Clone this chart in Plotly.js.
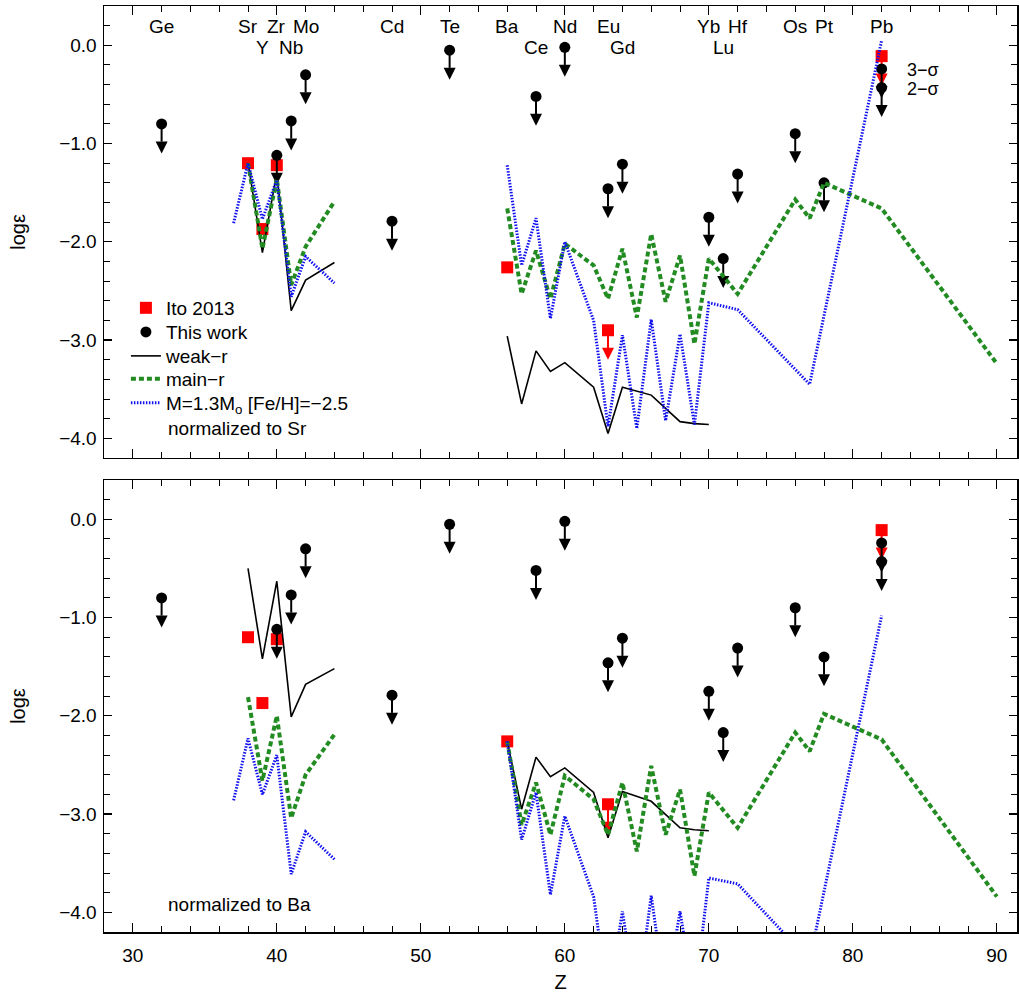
<!DOCTYPE html>
<html><head><meta charset="utf-8">
<script src="https://cdn.plot.ly/plotly-3.0.1.min.js"></script>
<style>html,body{margin:0;padding:0;background:#fff}#chart{width:1019px;height:996px}</style>
</head><body><div id="chart"></div>
<script>
// ---------- observed abundances ----------
const thisWorkZ   = [32, 40, 41, 42, 48, 52, 58, 60, 63, 64, 70, 71, 72, 76, 78, 82, 82];
const thisWorkLog = [-0.80, -1.12, -0.77, -0.30, -1.79, -0.05, -0.52, -0.02, -1.46, -1.21, -1.75, -2.17, -1.31, -0.90, -1.40, -0.24, -0.43];

const itoZ   = [38, 39, 40, 56, 63, 82];
const itoLog = [-1.20, -1.87, -1.22, -2.26, -2.90, -0.11];
const itoLimZ   = [63, 82];
const itoLimLog = [-2.90, -0.11];

// ---------- models, normalized to Sr (top) ----------
const weakZ_L = [38, 39, 40, 41, 42, 44];
const weakSr_L = [-1.20, -2.11, -1.30, -2.70, -2.39, -2.21];
const weakZ_H = [56, 57, 58, 59, 60, 62, 63, 64, 66, 68, 69, 70];
const weakSr_H = [-2.96, -3.65, -3.11, -3.32, -3.23, -3.48, -3.95, -3.48, -3.56, -3.83, -3.85, -3.86];

const mainZ_L = [38, 39, 40, 41, 42, 44];
const mainSr_L = [-1.20, -2.07, -1.36, -2.44, -2.05, -1.59];
const mainZ_H = [56, 57, 58, 59, 60, 62, 63, 64, 65, 66, 67, 68, 69, 70, 72, 76, 77, 78, 82, 90];
const mainSr_H = [-1.66, -2.53, -2.09, -2.58, -2.02, -2.24, -2.58, -2.07, -2.77, -1.92, -2.61, -2.14, -3.04, -2.17, -2.53, -1.57, -1.76, -1.40, -1.66, -3.24];

const agbZ_L = [37, 38, 39, 40, 41, 42, 44];
const agbSr_L = [-1.81, -1.20, -1.77, -1.37, -2.56, -2.15, -2.42];
const agbZ_H = [56, 57, 58, 59, 60, 61, 62, 63, 64, 65, 66, 67, 68, 69, 70, 72, 77, 82];
const agbSr_H = [-1.22, -2.24, -1.76, -2.78, -2.00, -2.40, -2.80, -3.88, -2.95, -3.90, -2.79, -3.82, -2.94, -3.86, -2.62, -2.69, -3.45, 0.05];

// ---------- models, normalized to Ba (bottom) ----------
const weakBa_L = [-0.50, -1.42, -0.63, -2.01, -1.68, -1.52];
const weakBa_H = [-2.26, -2.95, -2.42, -2.62, -2.53, -2.78, -3.24, -2.77, -2.87, -3.14, -3.16, -3.17];
const mainBa_L = [-1.81, -2.66, -2.00, -3.04, -2.60, -2.19];
const mainBa_H = [-2.26, -3.11, -2.68, -3.21, -2.61, -2.85, -3.21, -2.68, -3.38, -2.51, -3.21, -2.75, -3.63, -2.78, -3.14, -2.17, -2.36, -1.98, -2.24, -3.84];
const agbBa_L = [-2.86, -2.23, -2.80, -2.40, -3.61, -3.18, -3.46];
const agbBa_H = [-2.26, -3.26, -2.78, -3.82, -3.02, -3.42, -3.84, -4.90, -3.99, -4.94, -3.83, -4.86, -3.99, -4.90, -3.65, -3.71, -4.49, -0.98];

// ---------- element labels ----------
const elemNames = ['Ge','Sr','Zr','Mo','Cd','Te','Ba','Nd','Eu','Yb','Hf','Os','Pt','Pb','Y','Nb','Ce','Gd','Lu'];
const elemZ     = [32, 38, 40, 42, 48, 52, 56, 60, 63, 70, 72, 76, 78, 82, 39, 41, 58, 64, 71];
const elemRow   = [1, 1, 1, 1, 1, 1, 1, 1, 1, 1, 1, 1, 1, 1, 2, 2, 2, 2, 2];

// ---------- styles ----------
const FONT = 'Liberation Sans, Arial, Helvetica, sans-serif';
const FS = 19;
const ARROW_LEN = 0.30, SHAFT_LEN = 0.18;
const GREEN = '#228b22', BLUE = '#1010f0', RED = '#ff0000';

function arrows(zs, vs, color, xa, ya) {
  const sx = [], sy = [], tx = [], ty = [];
  zs.forEach((z, i) => {
    sx.push(z, z, null); sy.push(vs[i], vs[i] - SHAFT_LEN, null);
    tx.push(z); ty.push(vs[i] - ARROW_LEN);
  });
  return [
    {x: sx, y: sy, xaxis: xa, yaxis: ya, mode: 'lines', line: {color: color, width: 2}, showlegend: false, hoverinfo: 'skip'},
    {x: tx, y: ty, xaxis: xa, yaxis: ya, mode: 'markers', marker: {symbol: 'arrow-down', size: 12, color: color, line: {width: 0}}, showlegend: false, hoverinfo: 'skip'}
  ];
}

function panel(xa, ya, weakL, weakH, mainL, mainH, agbL, agbH, leg) {
  const t = [];
  t.push({x: itoZ, y: itoLog, xaxis: xa, yaxis: ya, mode: 'markers', name: 'Ito 2013', legend: 'legend',
          marker: {symbol: 'square', size: 12, color: RED}, showlegend: leg});
  t.push(...arrows(itoLimZ, itoLimLog, RED, xa, ya));
  t.push({x: thisWorkZ, y: thisWorkLog, xaxis: xa, yaxis: ya, mode: 'markers', name: 'This work', legend: 'legend2',
          marker: {symbol: 'circle', size: 11, color: 'black'}, showlegend: leg});
  t.push(...arrows(thisWorkZ, thisWorkLog, 'black', xa, ya));
  const weakLine = {color: 'black', width: 1.6};
  const mainLine = {color: GREEN, width: 4, dash: '5px,3px'};
  const agbLine = {color: BLUE, width: 3, dash: '1.5px,1.5px'};
  t.push({x: weakZ_L, y: weakL, xaxis: xa, yaxis: ya, mode: 'lines', name: 'weak\u2212r', legend: 'legend3', line: weakLine, showlegend: leg});
  t.push({x: weakZ_H, y: weakH, xaxis: xa, yaxis: ya, mode: 'lines', name: 'weak\u2212r', line: weakLine, showlegend: false});
  t.push({x: mainZ_L, y: mainL, xaxis: xa, yaxis: ya, mode: 'lines', name: 'main\u2212r', legend: 'legend4', line: mainLine, showlegend: leg});
  t.push({x: mainZ_H, y: mainH, xaxis: xa, yaxis: ya, mode: 'lines', name: 'main\u2212r', line: mainLine, showlegend: false});
  t.push({x: agbZ_L, y: agbL, xaxis: xa, yaxis: ya, mode: 'lines', name: 'M=1.3M<sub>o</sub> [Fe/H]=\u22122.5', legend: 'legend5', line: agbLine, showlegend: leg});
  t.push({x: agbZ_H, y: agbH, xaxis: xa, yaxis: ya, mode: 'lines', name: 'M=1.3M<sub>o</sub> [Fe/H]=\u22122.5', line: agbLine, showlegend: false});
  return t;
}

const traces = [
  ...panel('x2', 'y', weakSr_L, weakSr_H, mainSr_L, mainSr_H, agbSr_L, agbSr_H, true),
  ...panel('x', 'y2', weakBa_L, weakBa_H, mainBa_L, mainBa_H, agbBa_L, agbBa_H, false)
];

const annotations = elemNames.map((n, i) => ({
  x: elemZ[i], y: elemRow[i] === 1 ? 0.19 : -0.02, xref: 'x2', yref: 'y',
  text: n, showarrow: false, font: {family: FONT, size: FS, color: 'black'}
}));
annotations.push(
  {x: 83.6, y: -0.25, xref: 'x2', yref: 'y', xanchor: 'left', text: '3\u2212\u03c3', showarrow: false, font: {family: FONT, size: 18, color: 'black'}},
  {x: 83.6, y: -0.44, xref: 'x2', yref: 'y', xanchor: 'left', text: '2\u2212\u03c3', showarrow: false, font: {family: FONT, size: 18, color: 'black'}},
  {x: 32.3, y: -3.90, xref: 'x2', yref: 'y', xanchor: 'left', text: 'normalized to Sr', showarrow: false, font: {family: FONT, size: FS, color: 'black'}},
  {x: 32.3, y: -3.92, xref: 'x', yref: 'y2', xanchor: 'left', text: 'normalized to Ba', showarrow: false, font: {family: FONT, size: FS, color: 'black'}}
);

const xCommon = {
  range: [28, 91.4], dtick: 10, tick0: 0, ticks: 'inside', ticklen: 9, tickwidth: 1.3, tickcolor: 'black',
  minor: {dtick: 2, ticks: 'inside', ticklen: 6, tickwidth: 1, tickcolor: 'black', showgrid: false},
  showline: true, linecolor: 'black', linewidth: 1.5, mirror: 'allticks',
  showgrid: false, zeroline: false, tickfont: {family: FONT, size: FS, color: 'black'}
};
const yCommon = {
  range: [-4.2, 0.4], dtick: 1, tick0: 0, tickformat: '.1f', ticks: 'inside', ticklen: 8, tickwidth: 1.3, tickcolor: 'black',
  minor: {dtick: 0.2, ticks: 'inside', ticklen: 6, tickwidth: 1, tickcolor: 'black', showgrid: false},
  showline: true, linecolor: 'black', linewidth: 1.5, mirror: 'allticks',
  showgrid: false, zeroline: false, tickfont: {family: FONT, size: FS, color: 'black'},
  ticklabelstandoff: 2,
  title: {text: 'log\u03b5', font: {family: FONT, size: 20, color: 'black'}, standoff: 28}
};

function legendAt(y) {
  return {x: 0.024, y: y, xanchor: 'left', yanchor: 'middle', bgcolor: 'rgba(0,0,0,0)', borderwidth: 0,
          font: {family: FONT, size: FS, color: 'black'}, itemwidth: 30};
}

const layout = {
  width: 1019, height: 996,
  margin: {l: 104, r: 2, t: 6, b: 64},
  paper_bgcolor: 'white', plot_bgcolor: 'white',
  font: {family: FONT, size: FS, color: 'black'},
  xaxis: Object.assign({}, xCommon, {domain: [0, 1], anchor: 'y2', ticklabelstandoff: 6,
    title: {text: 'Z', font: {family: FONT, size: 20, color: 'black'}, standoff: 9}}),
  xaxis2: Object.assign({}, xCommon, {domain: [0, 1], anchor: 'y', matches: 'x', showticklabels: false}),
  yaxis: Object.assign({}, yCommon, {domain: [0.5119, 1], anchor: 'x2'}),
  yaxis2: Object.assign({}, yCommon, {domain: [0, 0.4881], anchor: 'x'}),
  showlegend: true,
  legend: legendAt(0.6739),
  legend2: legendAt(0.6479),
  legend3: legendAt(0.6220),
  legend4: legendAt(0.5972),
  legend5: legendAt(0.5713),
  annotations: annotations
};

Plotly.newPlot('chart', traces, layout, {displayModeBar: false, staticPlot: true});
</script></body></html>
